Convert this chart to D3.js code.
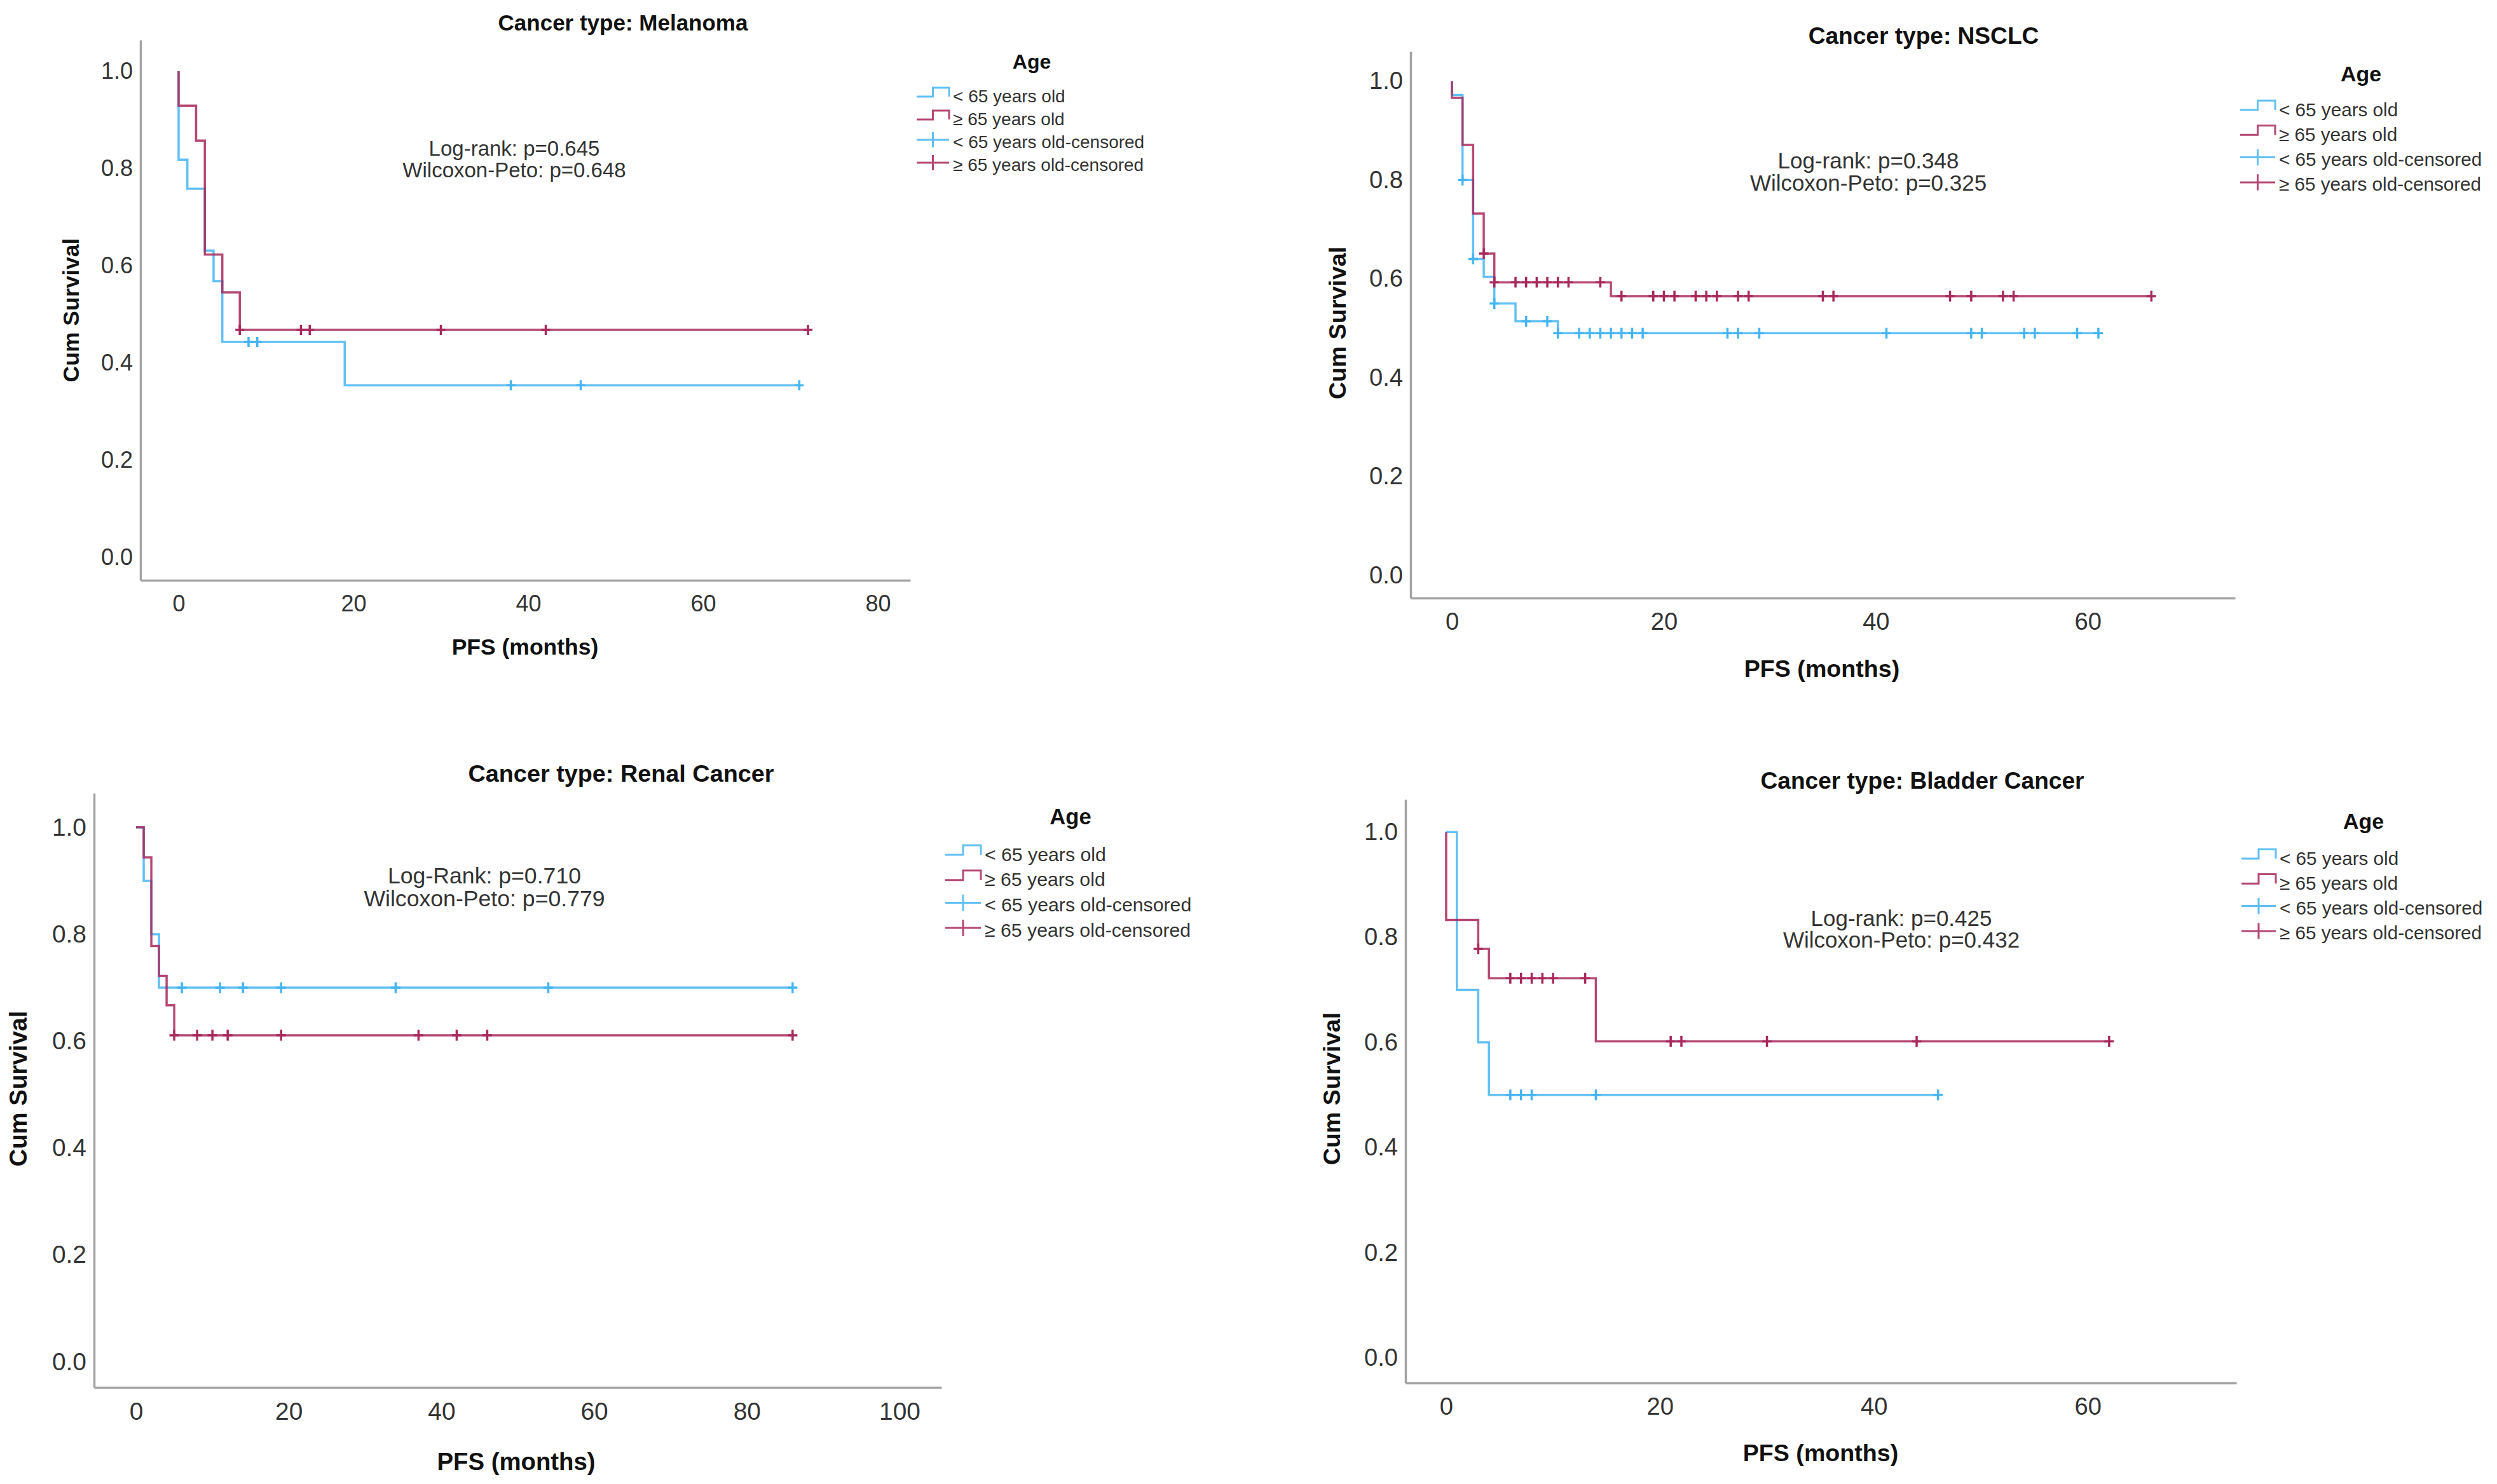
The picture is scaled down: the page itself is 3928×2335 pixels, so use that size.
<!doctype html>
<html lang="en">
<head>
  <meta charset="utf-8">
  <title>PFS by age group</title>
  <script src="https://cdnjs.cloudflare.com/ajax/libs/d3/7.8.5/d3.min.js"></script>
  <style>
    body { margin: 0; background: #fff; }
    svg { display: block; font-family: "Liberation Sans", Arial, sans-serif; }
  </style>
</head>
<body>
<div id="chart"></div>

<script type="text/javascript">

// ---- data ----
const panelTitles = ["Cancer type: Melanoma", "Cancer type: NSCLC", "Cancer type: Renal Cancer", "Cancer type: Bladder Cancer"]

const legendLabels = ["< 65 years old", "≥ 65 years old", "< 65 years old-censored", "≥ 65 years old-censored"]

const yTicks = [0, 0.2, 0.4, 0.6, 0.8, 1.0]
const melanomaXTicks = [0, 20, 40, 60, 80]
const nsclcXTicks = [0, 20, 40, 60]
const renalXTicks = [0, 20, 40, 60, 80, 100]
const bladderXTicks = [0, 20, 40, 60]

// event times (months) and survival after each event, censored times
const melanomaYoungT = [0, 1, 3, 4, 5, 19]
const melanomaYoungS = [0.818, 0.758, 0.631, 0.568, 0.443, 0.354]
const melanomaYoungCens = [8, 9, 38, 46, 71]
const melanomaOldT = [0, 2, 3, 5, 7]
const melanomaOldS = [0.929, 0.857, 0.623, 0.545, 0.468]
const melanomaOldCens = [7, 14, 15, 30, 42, 72]

const nsclcYoungT = [0, 1, 2, 3, 4, 6, 10]
const nsclcYoungS = [0.972, 0.80, 0.64, 0.604, 0.55, 0.514, 0.49]
const nsclcYoungCens = [1, 2, 4, 7, 9, 10, 12, 13, 14, 15, 16, 17, 18, 26, 27, 29, 41, 49, 50, 54, 55, 59, 61]
const nsclcOldT = [0, 1, 2, 3, 4, 15]
const nsclcOldS = [0.966, 0.871, 0.732, 0.651, 0.593, 0.565]
const nsclcOldCens = [3, 4, 6, 7, 8, 9, 10, 11, 14, 16, 19, 20, 21, 23, 24, 25, 27, 28, 35, 36, 47, 49, 52, 53, 66]

const renalYoungT = [1, 2, 3]
const renalYoungS = [0.9, 0.8, 0.7]
const renalYoungCens = [6, 11, 14, 19, 34, 54, 86]
const renalOldT = [1, 2, 3, 4, 5]
const renalOldS = [0.944, 0.778, 0.722, 0.667, 0.611]
const renalOldCens = [5, 8, 10, 12, 19, 37, 42, 46, 86]

const bladderYoungT = [1, 3, 4]
const bladderYoungS = [0.7, 0.6, 0.5]
const bladderYoungCens = [6, 7, 8, 14, 46]
const bladderOldT = [0, 3, 4, 14]
const bladderOldS = [0.833, 0.778, 0.722, 0.602]
const bladderOldCens = [3, 6, 7, 8, 9, 10, 13, 21, 22, 30, 44, 62]

const melanomaTests = ["Log-rank: p=0.645", "Wilcoxon-Peto: p=0.648"]
const nsclcTests = ["Log-rank: p=0.348", "Wilcoxon-Peto: p=0.325"]
const renalTests = ["Log-Rank: p=0.710", "Wilcoxon-Peto: p=0.779"]
const bladderTests = ["Log-rank: p=0.425", "Wilcoxon-Peto: p=0.432"]

// ---- layout (pixel positions of each panel) ----
const layout = [
  { left: 221, right: 1432, top: 63, bottom: 913, xDom: [-4.36, 83.7], yDom: [-0.047, 1.064], fs: 1,
    titleX: 980, titleY: 35, ylabX: 112, ylabY: 488, xlabX: 826, xlabY: 1018,
    annX: 809, annY: 233, annDy: 34.5, ageX: 1623, ageY: 97, legX: 1442, legY: 151, legDy: 36, legW: 51 },
  { left: 2219, right: 3516, top: 81, bottom: 941, xDom: [-3.9, 73.9], yDom: [-0.046, 1.06], fs: 1.06,
    titleX: 3026, titleY: 56, ylabX: 2104, ylabY: 508, xlabX: 2866, xlabY: 1052,
    annX: 2939, annY: 252, annDy: 35.5, ageX: 3714, ageY: 116, legX: 3524, legY: 172, legDy: 39.3, legW: 55 },
  { left: 148, right: 1481, top: 1248, bottom: 2183, xDom: [-5.5, 105.5], yDom: [-0.048, 1.064], fs: 1.08,
    titleX: 977, titleY: 1217, ylabX: 28, ylabY: 1713, xlabX: 812, xlabY: 2299,
    annX: 762, annY: 1378, annDy: 35.5, ageX: 1684, ageY: 1285, legX: 1487, legY: 1344, legDy: 39.7, legW: 56 },
  { left: 2211, right: 3518, top: 1258, bottom: 2176, xDom: [-3.8, 73.9], yDom: [-0.048, 1.062], fs: 1.06,
    titleX: 3024, titleY: 1228, ylabX: 2095, ylabY: 1713, xlabX: 2864, xlabY: 2286,
    annX: 2991, annY: 1444, annDy: 34, ageX: 3718, ageY: 1292, legX: 3526, legY: 1350, legDy: 39.3, legW: 54 }
]

const panels = [
  { xTicks: melanomaXTicks, tests: melanomaTests,
    groups: [[melanomaYoungT, melanomaYoungS, melanomaYoungCens], [melanomaOldT, melanomaOldS, melanomaOldCens]] },
  { xTicks: nsclcXTicks, tests: nsclcTests,
    groups: [[nsclcYoungT, nsclcYoungS, nsclcYoungCens], [nsclcOldT, nsclcOldS, nsclcOldCens]] },
  { xTicks: renalXTicks, tests: renalTests,
    groups: [[renalYoungT, renalYoungS, renalYoungCens], [renalOldT, renalOldS, renalOldCens]] },
  { xTicks: bladderXTicks, tests: bladderTests,
    groups: [[bladderYoungT, bladderYoungS, bladderYoungCens], [bladderOldT, bladderOldS, bladderOldCens]] }
]

const colors = ["#45b5f2", "#a8285d"]
const axisColor = "#a3a3a3"
const textColor = "#333"

const W = 3928, H = 2335

const svg = d3.select("#chart").append("svg")
  .attr("width", W)
  .attr("height", H)

svg.append("rect").attr("width", W).attr("height", H).attr("fill", "#fff")

// survival value at time t for a step curve
function survAt(times, surv, t) {
  let s = 1
  times.forEach( (e, i) => { if (e <= t) s = surv[i] })
  return s
}

panels.forEach( (p, k) => {
  const L = layout[k]
  const fs = L.fs
  const g = svg.append("g")

  const x = d3.scaleLinear().domain(L.xDom).range([L.left, L.right])
  const y = d3.scaleLinear().domain(L.yDom).range([L.bottom, L.top])

  // axes
  const yAxis = g.append("g")
    .attr("transform", "translate(" + L.left + ",0)")
    .call(d3.axisLeft(y).tickValues(yTicks).tickSize(0).tickPadding(12).tickFormat(d3.format(".1f")))
  const xAxis = g.append("g")
    .attr("transform", "translate(0," + L.bottom + ")")
    .call(d3.axisBottom(x).tickValues(p.xTicks).tickSize(0).tickPadding(23))

  ;[xAxis, yAxis].forEach( a => {
    a.select(".domain").attr("stroke", axisColor).attr("stroke-width", 3.5)
    a.selectAll("text")
      .attr("fill", textColor)
      .style("font-size", (36 * fs) + "px")
  })

  // curves
  const line = d3.line()
    .x( d => x(d[0]) )
    .y( d => y(d[1]) )
    .curve(d3.curveStepAfter)

  p.groups.forEach( (grp, gi) => {
    const [times, surv, cens] = grp
    const pts = [[0, 1]]
    times.forEach( (t, i) => pts.push([t, surv[i]]) )
    const tEnd = d3.max([d3.max(times), d3.max(cens)])
    pts.push([tEnd, surv[surv.length - 1]])

    g.append("path")
      .datum(pts)
      .attr("d", line)
      .attr("fill", "none")
      .attr("stroke", colors[gi])
      .attr("stroke-width", 3.5)
      .attr("stroke-opacity", 0.85)

    // censored marks: small crosses on the curve
    g.selectAll(null)
      .data(cens)
      .enter().append("path")
        .attr("d", d => {
          const cx = x(d), cy = y(survAt(times, surv, d))
          return "M" + cx + "," + (cy - 8 * fs) + "V" + (cy + 8 * fs) +
            "M" + (cx - 7 * fs) + "," + cy + "H" + (cx + 7 * fs)
        })
        .attr("fill", "none")
        .attr("stroke", colors[gi])
        .attr("stroke-width", 3.5)
  })

  // titles and axis labels
  g.append("text")
    .text(panelTitles[k])
    .attr("x", L.titleX).attr("y", L.titleY)
    .attr("text-anchor", "middle").attr("dominant-baseline", "central")
    .style("font-weight", "bold").style("font-size", (35 * fs) + "px")
    .attr("fill", "#111")

  g.append("text")
    .text("Cum Survival")
    .attr("transform", "translate(" + L.ylabX + "," + L.ylabY + ") rotate(-90)")
    .attr("text-anchor", "middle").attr("dominant-baseline", "central")
    .style("font-weight", "bold").style("font-size", (35.5 * fs) + "px")
    .attr("fill", "#111")

  g.append("text")
    .text("PFS (months)")
    .attr("x", L.xlabX).attr("y", L.xlabY)
    .attr("text-anchor", "middle").attr("dominant-baseline", "central")
    .style("font-weight", "bold").style("font-size", (35.5 * fs) + "px")
    .attr("fill", "#111")

  // test statistics
  p.tests.forEach( (t, i) => {
    g.append("text")
      .text(t)
      .attr("x", L.annX).attr("y", L.annY + i * L.annDy)
      .attr("text-anchor", "middle").attr("dominant-baseline", "central")
      .style("font-size", (33 * fs) + "px")
      .attr("fill", textColor)
  })

  // legend
  g.append("text")
    .text("Age")
    .attr("x", L.ageX).attr("y", L.ageY)
    .attr("text-anchor", "middle").attr("dominant-baseline", "central")
    .style("font-weight", "bold").style("font-size", (32 * fs) + "px")
    .attr("fill", "#111")

  legendLabels.forEach( (lab, i) => {
    const cy = L.legY + i * L.legDy
    const c = colors[i % 2]
    const x0 = L.legX, x1 = L.legX + L.legW, xm = (x0 + x1) / 2
    if (i < 2) {
      const lo = cy + 1, hi = cy - 13 * fs
      g.append("path")
        .attr("d", "M" + x0 + "," + lo + "H" + xm + "V" + hi + "H" + x1 + "V" + lo)
        .attr("fill", "none").attr("stroke", c).attr("stroke-width", 3).attr("stroke-opacity", 0.85)
    } else {
      const my = cy - 3
      g.append("path")
        .attr("d", "M" + x0 + "," + my + "H" + x1 + "M" + xm + "," + (my - 12 * fs) + "V" + (my + 12 * fs))
        .attr("fill", "none").attr("stroke", c).attr("stroke-width", 3).attr("stroke-opacity", 0.85)
    }
    g.append("text")
      .text(lab)
      .attr("x", x1 + 6).attr("y", cy)
      .attr("dominant-baseline", "central")
      .style("font-size", (28 * fs) + "px")
      .attr("fill", textColor)
  })
})

</script>
</body>
</html>
